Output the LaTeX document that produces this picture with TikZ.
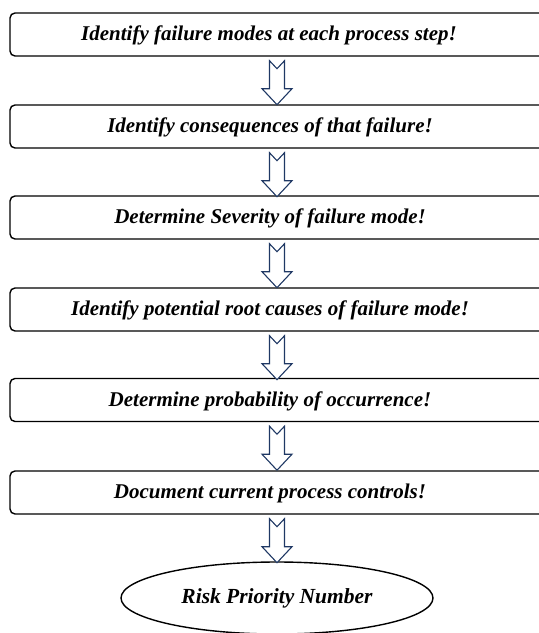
\documentclass[tikz,border=0pt]{standalone}
\usepackage{fontspec}
\setmainfont{Liberation Serif}
\usetikzlibrary{shapes.geometric,calc}
\definecolor{arrownavy}{HTML}{1F3864}
\tikzset{
  x=1pt, y=-1pt,
  stepbox/.style={draw=black, line width=1.4pt, rounded corners=5pt,
    minimum width=560pt, minimum height=43pt, inner sep=0pt},
  steptext/.style={font=\fontsize{21}{23}\selectfont\bfseries\itshape, inner sep=0pt},
  endoval/.style={draw=black, line width=1.4pt, ellipse,
    minimum width=312pt, minimum height=72pt, inner sep=0pt,
    font=\fontsize{21.5}{23}\selectfont\bfseries\itshape},
  pics/blockarrow/.style={code={
    \draw[arrownavy, line width=1.1pt, fill=white, line join=miter]
      (-7.5,0) -- (0,8) -- (7.5,0) -- (7.5,28) -- (15,28) -- (0,44)
      -- (-15,28) -- (-7.5,28) -- cycle;
  }}
}
\begin{document}
\begin{tikzpicture}
\useasboundingbox (0,0) rectangle (539,633);
% process steps
\node[stepbox] (b1) at (290,34.5) {};
\node[stepbox] (b2) at (290,126.5) {};
\node[stepbox] (b3) at (290,217.5) {};
\node[stepbox] (b4) at (290,309.5) {};
\node[stepbox] (b5) at (290,400) {};
\node[stepbox] (b6) at (290,492.5) {};
\node[steptext] (t1) at (269,35) {Identify failure modes at each process step!};
\node[steptext] (t2) at (270,127) {Identify consequences of that failure!};
\node[steptext] (t3) at (270,218) {Determine Severity of failure mode!};
\node[steptext] (t4) at (270,310) {Identify potential root causes of failure mode!};
\node[steptext] (t5) at (270,401) {Determine probability of occurrence!};
\node[steptext] (t6) at (270,493) {Document current process controls!};
% result
\node[endoval] (rpn) at (277,598) {Risk Priority Number};
% block arrows between the steps
\foreach \a in {b1,b2,b3,b4,b5,b6}{
  \pic at ($(\a.south -| rpn.north)+(0,4)$) {blockarrow};
}
\end{tikzpicture}
\end{document}
